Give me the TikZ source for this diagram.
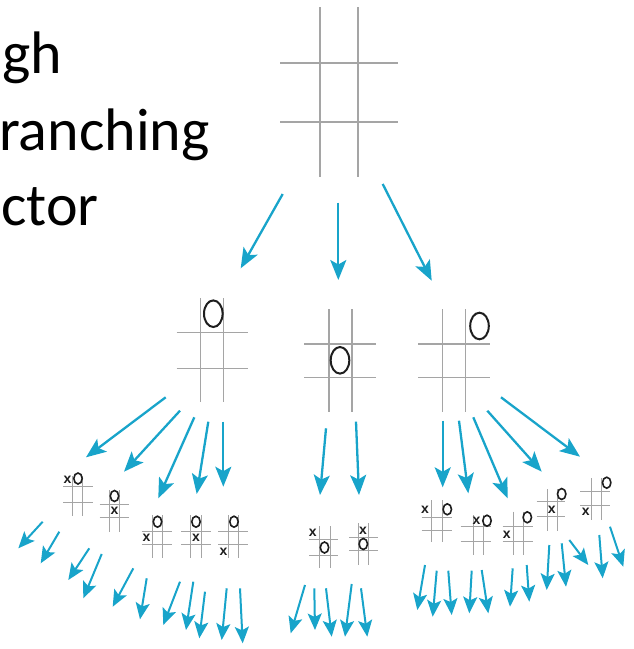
\documentclass[tikz,border=0pt]{standalone}
\usepackage{fontspec}
\usetikzlibrary{arrows.meta}
\newfontfamily\calib{Carlito}
\newfontfamily\marksans{Liberation Sans}
\definecolor{arrcyan}{RGB}{24,164,202}
\definecolor{gridgray}{RGB}{165,165,165}
\definecolor{markdark}{RGB}{30,30,30}
\newcommand\tttboard[9]{%
  \draw[#1] (#2,#4) -- (#2,#5) (#3,#4) -- (#3,#5) (#8,#6) -- (#9,#6) (#8,#7) -- (#9,#7);}
\tikzset{
  biggrid/.style={draw=gridgray, line width=1.3pt},
  smallgrid/.style={draw=gridgray, line width=1pt},
  bigo/.style={draw=markdark, line width=2pt},
  smallo/.style={draw=markdark, line width=1.6pt},
  smallx/.style={inner sep=0pt, text=markdark, font=\marksans\bfseries\fontsize{14}{14}\selectfont},
  bigarrow/.style={draw=arrcyan, line width=2.3pt, -{Stealth[length=20pt,width=16pt,inset=4.5pt]}},
  smallarrow/.style={draw=arrcyan, line width=2pt, -{Stealth[length=16.5pt,width=14pt,inset=3.5pt]}},
  bigtext/.style={anchor=base west, inner sep=0pt, font=\calib\fontsize{60}{72}\selectfont}
}
\begin{document}
\begin{tikzpicture}[x=1pt,y=-1pt]
\useasboundingbox (0,0) rectangle (634,649);
% text fragments
\node[bigtext] (t1) at (2,73.3) {gh};
\node[bigtext] (t2) at (-1,150) {ranching};
\node[bigtext] (t3) at (1,225) {ctor};
% top board
\tttboard{biggrid}{320}{358}{7}{177}{63}{122}{280}{398}
% level-2 boards
\tttboard{biggrid}{200.7}{223.3}{298}{402}{332.7}{368.7}{176.7}{247.7}
\draw[bigo] (213.3,313.7) ellipse [x radius=9.3, y radius=13.3];
\tttboard{biggrid}{329}{352}{309}{412}{344}{377.3}{304}{376}
\draw[bigo] (340,360.3) ellipse [x radius=9.3, y radius=13.3];
\tttboard{biggrid}{442.7}{465.3}{309}{412}{344}{377.3}{418.3}{490}
\draw[bigo] (479.5,326) ellipse [x radius=9.3, y radius=13.3];
% level-3 boards, left group
\tttboard{smallgrid}{72}{82}{476}{516}{486.5}{502}{63}{92.5}
\node[smallx] (l1x) at (67.5,479.5) {x};
\draw[smallo] (78,478.5) ellipse [x radius=4.2, y radius=5.5];
\tttboard{smallgrid}{109}{119}{490}{531.5}{504}{517.5}{99.5}{128.5}
\draw[smallo] (114.5,496) ellipse [x radius=4.2, y radius=5.5];
\node[smallx] (l2x) at (114.5,510.7) {x};
\tttboard{smallgrid}{152.7}{162.7}{515}{558}{531}{544}{141.7}{171.7}
\draw[smallo] (157.5,521.7) ellipse [x radius=4.2, y radius=5.5];
\node[smallx] (l3x) at (146.5,537.3) {x};
\tttboard{smallgrid}{190.7}{201}{515}{558}{531}{544}{181}{210.7}
\draw[smallo] (196,521.7) ellipse [x radius=4.2, y radius=5.5];
\node[smallx] (l4x) at (196,537.3) {x};
\tttboard{smallgrid}{228.3}{238.3}{515}{558}{531}{544}{218.3}{248.3}
\draw[smallo] (234,521.7) ellipse [x radius=4.2, y radius=5.5];
\node[smallx] (l5x) at (223.5,551.5) {x};
% middle group
\tttboard{smallgrid}{319.3}{330}{526}{568}{539.3}{555}{309.3}{338.3}
\node[smallx] (m1x) at (312.7,532.7) {x};
\draw[smallo] (324.5,547.5) ellipse [x radius=4.2, y radius=5.5];
\tttboard{smallgrid}{358.3}{368.3}{523}{565}{537.3}{550.7}{349.3}{378.3}
\node[smallx] (m2x) at (363,530.5) {x};
\draw[smallo] (363.3,544) ellipse [x radius=4.2, y radius=5.5];
% right group
\tttboard{smallgrid}{431.7}{442.3}{500}{541.7}{517.3}{530.7}{421.7}{451.7}
\node[smallx] (r1x) at (425,510) {x};
\draw[smallo] (447.3,509.3) ellipse [x radius=4.2, y radius=5.5];
\tttboard{smallgrid}{473.3}{483.3}{515}{555}{526.7}{541.7}{460.7}{490.7}
\node[smallx] (r2x) at (476.5,520.7) {x};
\draw[smallo] (487,520.7) ellipse [x radius=4.2, y radius=5.5];
\tttboard{smallgrid}{513.3}{523.3}{511.7}{555}{526.7}{541.7}{502.7}{532.7}
\node[smallx] (r3x) at (506.7,535) {x};
\draw[smallo] (527.3,517.3) ellipse [x radius=4.2, y radius=5.5];
\tttboard{smallgrid}{547.3}{557.3}{489.3}{530.7}{501.7}{516.7}{536.7}{565}
\node[smallx] (r4x) at (551.7,510) {x};
\draw[smallo] (561.7,494) ellipse [x radius=4.2, y radius=5.5];
\tttboard{smallgrid}{591.7}{601.7}{478.3}{520}{491.7}{505}{580}{610}
\node[smallx] (r5x) at (585.7,511.7) {x};
\draw[smallo] (606.7,482.7) ellipse [x radius=4.2, y radius=5.5];
% level-1 and level-2 arrows
\foreach \n/\a/\b/\c/\d in {
  p1/282.7/194/240.7/268.3, p2/338.3/202.7/338.3/280, p3/382.7/184/431.7/280.7,
  a1/165.7/397.3/86/457.3, a2/180/410.7/124/471.7, a3/194.3/417.3/158.3/498.3,
  a4/208.3/421.7/196.7/494, a5/223.3/421.7/223.3/486.7,
  b1/326/428.3/320/495, b2/356/421.7/359/495,
  c1/442.7/420.7/442.7/487.3, c2/459/420.7/468.3/493.3, c3/473.3/417.3/507.7/498.3,
  c4/487.3/410.7/541.7/471.7, c5/501/397.3/580/456.7}{
  \coordinate (s\n) at (\a,\b);
  \coordinate (e\n) at (\c,\d);
  \draw[bigarrow] (s\n) -- (e\n);
}
% level-3 arrows
\foreach \n/\a/\b/\c/\d in {
  1/42.7/521.7/18.3/548.3, 2/59.3/531.7/40.7/563.3, 3/89.3/548.3/68.3/580,
  4/101.7/554/83.3/598.3, 5/133.3/568.3/112.7/606.7, 6/146.7/578.3/140/619.3,
  7/180/581.7/163.3/625, 8/193.3/581.7/186/630, 9/205/591.7/199.3/638.3,
  10/226.7/588.3/221.7/640, 11/240/588.3/242.7/643.3,
  12/305/585/290.7/633.3, 13/314.3/588.3/315/630, 14/326/588.3/331.7/636.7,
  15/351.7/584/345/636.7, 16/361/588.3/367.3/636.7,
  17/425/565/417.3/610, 18/436.7/570.7/432.7/616.7, 19/448.3/570.7/451.7/615,
  20/471.7/570.7/469.3/613.3, 21/481.7/570/488.3/613.3, 22/512.7/568.3/510/606.7,
  23/526.7/565/529.3/601.7, 24/549.3/545/546.7/590, 25/561.7/543.3/566/586.7,
  26/569.3/540/588.3/565, 27/599.3/535/602.7/578.3, 28/610/526.7/623.3/566.7}{
  \coordinate (u\n) at (\a,\b);
  \coordinate (v\n) at (\c,\d);
  \draw[smallarrow] (u\n) -- (v\n);
}
\end{tikzpicture}
\end{document}
